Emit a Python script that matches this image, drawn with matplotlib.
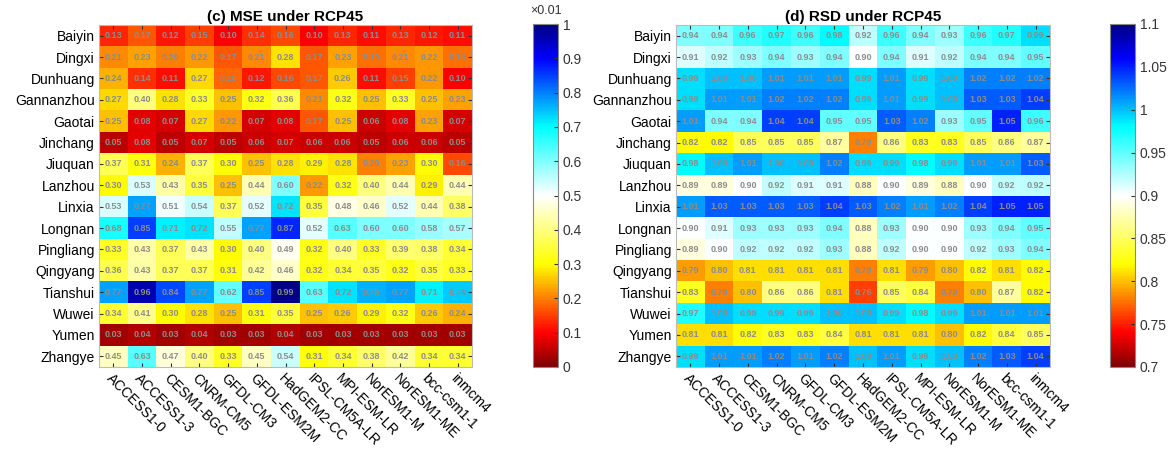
import numpy as np
import matplotlib
matplotlib.use('Agg')
import matplotlib.pyplot as plt
from matplotlib.colors import LinearSegmentedColormap

plt.rcParams['font.family'] = ['Liberation Sans', 'DejaVu Sans']

cities = ['Baiyin', 'Dingxi', 'Dunhuang', 'Gannanzhou', 'Gaotai', 'Jinchang',
          'Jiuquan', 'Lanzhou', 'Linxia', 'Longnan', 'Pingliang', 'Qingyang',
          'Tianshui', 'Wuwei', 'Yumen', 'Zhangye']
models = ['ACCESS1-0', 'ACCESS1-3', 'CESM1-BGC', 'CNRM-CM5', 'GFDL-CM3',
          'GFDL-ESM2M', 'HadGEM2-CC', 'IPSL-CM5A-LR', 'MPI-ESM-LR',
          'NorESM1-M', 'NorESM1-ME', 'bcc-csm1-1', 'inmcm4']

# MSE (x0.01)
mse = np.array([
    [0.13, 0.17, 0.12, 0.15, 0.10, 0.14, 0.16, 0.10, 0.13, 0.11, 0.13, 0.12, 0.11],
    [0.21, 0.23, 0.20, 0.22, 0.17, 0.21, 0.28, 0.17, 0.23, 0.19, 0.21, 0.22, 0.19],
    [0.24, 0.14, 0.11, 0.27, 0.18, 0.12, 0.16, 0.17, 0.26, 0.11, 0.15, 0.22, 0.10],
    [0.27, 0.40, 0.28, 0.33, 0.25, 0.32, 0.36, 0.21, 0.32, 0.25, 0.33, 0.25, 0.23],
    [0.25, 0.08, 0.07, 0.27, 0.22, 0.07, 0.08, 0.17, 0.25, 0.06, 0.08, 0.23, 0.07],
    [0.05, 0.08, 0.05, 0.07, 0.05, 0.06, 0.07, 0.06, 0.06, 0.05, 0.06, 0.06, 0.05],
    [0.37, 0.31, 0.24, 0.37, 0.30, 0.25, 0.28, 0.29, 0.28, 0.20, 0.23, 0.30, 0.16],
    [0.30, 0.53, 0.43, 0.35, 0.25, 0.44, 0.60, 0.22, 0.32, 0.40, 0.44, 0.29, 0.44],
    [0.53, 0.77, 0.51, 0.54, 0.37, 0.52, 0.72, 0.35, 0.48, 0.46, 0.52, 0.44, 0.38],
    [0.68, 0.85, 0.71, 0.72, 0.55, 0.77, 0.87, 0.52, 0.63, 0.60, 0.60, 0.58, 0.57],
    [0.33, 0.43, 0.37, 0.43, 0.30, 0.40, 0.49, 0.32, 0.40, 0.33, 0.39, 0.38, 0.34],
    [0.36, 0.43, 0.37, 0.37, 0.31, 0.42, 0.46, 0.32, 0.34, 0.35, 0.32, 0.35, 0.33],
    [0.77, 0.96, 0.84, 0.77, 0.62, 0.85, 0.99, 0.63, 0.72, 0.76, 0.77, 0.71, 0.74],
    [0.34, 0.41, 0.30, 0.28, 0.25, 0.31, 0.35, 0.25, 0.26, 0.29, 0.32, 0.26, 0.24],
    [0.03, 0.04, 0.03, 0.04, 0.03, 0.03, 0.04, 0.03, 0.03, 0.03, 0.03, 0.03, 0.03],
    [0.45, 0.63, 0.47, 0.40, 0.33, 0.45, 0.54, 0.31, 0.34, 0.38, 0.42, 0.34, 0.34],
])

rsd = np.array([
    [0.94, 0.94, 0.96, 0.97, 0.96, 0.98, 0.92, 0.96, 0.94, 0.93, 0.96, 0.97, 0.99],
    [0.91, 0.92, 0.93, 0.94, 0.93, 0.94, 0.90, 0.94, 0.91, 0.92, 0.94, 0.94, 0.95],
    [0.99, 1.00, 1.00, 1.01, 1.01, 1.01, 0.99, 1.01, 0.99, 1.00, 1.02, 1.02, 1.02],
    [0.99, 1.01, 1.01, 1.02, 1.02, 1.02, 0.99, 1.01, 0.99, 1.00, 1.03, 1.03, 1.04],
    [1.01, 0.94, 0.94, 1.04, 1.04, 0.95, 0.95, 1.03, 1.02, 0.93, 0.95, 1.05, 0.96],
    [0.82, 0.82, 0.85, 0.85, 0.85, 0.87, 0.78, 0.86, 0.83, 0.83, 0.85, 0.86, 0.87],
    [0.98, 1.00, 1.01, 1.00, 1.00, 1.02, 0.99, 0.99, 0.98, 0.99, 1.01, 1.01, 1.03],
    [0.89, 0.89, 0.90, 0.92, 0.91, 0.91, 0.88, 0.90, 0.89, 0.88, 0.90, 0.92, 0.92],
    [1.01, 1.03, 1.03, 1.03, 1.03, 1.04, 1.03, 1.02, 1.01, 1.02, 1.04, 1.05, 1.05],
    [0.90, 0.91, 0.93, 0.93, 0.93, 0.94, 0.88, 0.93, 0.90, 0.90, 0.93, 0.94, 0.95],
    [0.89, 0.90, 0.92, 0.92, 0.92, 0.93, 0.88, 0.92, 0.90, 0.90, 0.92, 0.93, 0.94],
    [0.79, 0.80, 0.81, 0.81, 0.81, 0.81, 0.78, 0.81, 0.79, 0.80, 0.82, 0.81, 0.82],
    [0.83, 0.78, 0.80, 0.86, 0.86, 0.81, 0.76, 0.85, 0.84, 0.78, 0.80, 0.87, 0.82],
    [0.97, 1.00, 0.99, 0.99, 0.99, 1.00, 1.00, 0.99, 0.98, 0.99, 1.01, 1.01, 1.01],
    [0.81, 0.81, 0.82, 0.83, 0.83, 0.84, 0.81, 0.81, 0.81, 0.80, 0.82, 0.84, 0.85],
    [0.99, 1.01, 1.01, 1.02, 1.01, 1.02, 1.00, 1.01, 0.99, 1.00, 1.02, 1.03, 1.04],
])

cmap = LinearSegmentedColormap.from_list('rwb', [
    (0.0, (0.5, 0, 0)), (0.1, (1, 0, 0)), (0.2, (1, 0.5, 0)),
    (0.3, (1, 1, 0)), (0.5, (1, 1, 1)), (0.7, (0, 1, 1)),
    (0.9, (0, 0, 1)), (1.0, (0, 0, 0.5))])

W, H = 1172, 462
fig = plt.figure(figsize=(W / 100, H / 100), dpi=100)


def px(x0, y0, x1, y1):
    return [x0 / W, 1 - y1 / H, (x1 - x0) / W, (y1 - y0) / H]


def panel(rect, crect, data, vmin, vmax, title, ticks):
    ax = fig.add_axes(px(*rect))
    im = ax.imshow(data, cmap=cmap, vmin=vmin, vmax=vmax, aspect='auto',
                   interpolation='nearest')
    for i in range(data.shape[0]):
        for j in range(data.shape[1]):
            ax.text(j, i, f'{data[i, j]:.2f}', ha='center', va='center',
                    fontsize=6.5, color='#8c8c8c', fontweight='bold')
    ax.set_xticks(range(len(models)))
    ax.set_xticklabels(models, rotation=-45, ha='left', va='top',
                       rotation_mode='anchor', fontsize=10)
    ax.set_yticks(range(len(cities)))
    ax.set_yticklabels(cities, fontsize=10)
    ax.tick_params(direction='in', length=3, top=True, right=True,
                   color='#333333', pad=3)
    for s in ax.spines.values():
        s.set_color('#bbbbbb')
    ax.set_title(title, fontsize=11, fontweight='bold', pad=3)
    cax = fig.add_axes(px(*crect))
    cb = fig.colorbar(im, cax=cax, ticks=ticks)
    cb.ax.tick_params(labelsize=10, direction='in', length=3,
                      color='#333333', labelcolor='#333333')
    cb.outline.set_edgecolor('#888888')
    return ax, cax


ax1, cax1 = panel((99, 25, 472, 367), (533, 24, 558, 367), mse, 0, 1,
                  '(c) MSE under RCP45', np.arange(0, 1.01, 0.1))
cax1.set_yticklabels(['0', '0.1', '0.2', '0.3', '0.4', '0.5', '0.6',
                      '0.7', '0.8', '0.9', '1'])
cax1.text(0.5, 1.02, '\u00d70.01', transform=cax1.transAxes, ha='center',
          va='bottom', fontsize=9, color='#333333')

ax2, cax2 = panel((676, 25, 1050, 367), (1110, 24, 1135, 367), rsd, 0.7, 1.1,
                  '(d) RSD under RCP45', np.arange(0.7, 1.101, 0.05))
cax2.set_yticklabels(['0.7', '0.75', '0.8', '0.85', '0.9', '0.95', '1',
                      '1.05', '1.1'])

fig.savefig('out.png', dpi=100)
